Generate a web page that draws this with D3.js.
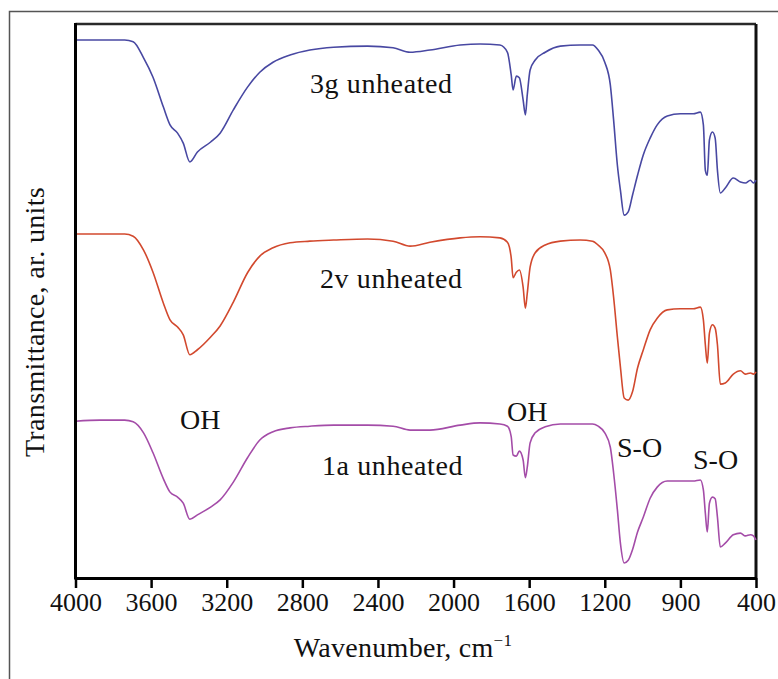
<!DOCTYPE html>
<html>
<head>
<meta charset="utf-8">
<script src="https://cdn.jsdelivr.net/npm/d3@7/dist/d3.min.js"></script>
<style>
  body { margin: 0; background: #fff; }
  svg { display: block; }
  text { font-family: "Liberation Serif", "Times New Roman", serif; fill: #111; }
</style>
</head>
<body>
<svg id="chart" width="778" height="679"></svg>
<script>
// Wavenumber sample points (cm^-1), shared by the three spectra
const wavenumbers = [4000, 3870, 3740, 3695, 3640, 3590, 3535, 3500, 3460, 3430, 3395, 3355, 3285, 3235, 3165, 3090, 3025, 2955, 2865, 2760, 2635, 2455, 2320, 2230, 2125, 1965, 1860, 1755, 1715, 1695, 1685, 1668, 1652, 1632, 1620, 1610, 1595, 1568, 1515, 1435, 1330, 1265, 1235, 1200, 1178, 1165, 1150, 1138, 1123, 1107, 1090, 1070, 1047, 1020, 992, 952, 900, 815, 768, 748, 735, 722, 708, 688, 670, 655, 636, 603, 550, 503, 470, 437, 417, 400];

// Transmittance (arbitrary units, stacked) for each sample
const series3g = [97.1, 97.1, 97.1, 96.8, 93.9, 90.4, 85.0, 81.8, 80.3, 78.5, 75.1, 76.9, 78.7, 80.3, 84.5, 88.6, 91.3, 93.1, 94.4, 95.3, 95.8, 96.0, 95.7, 94.9, 95.3, 96.2, 96.4, 96.2, 94.9, 90.8, 88.1, 90.6, 90.3, 86.3, 83.6, 87.2, 91.7, 93.5, 94.9, 96.0, 96.2, 96.2, 95.3, 93.1, 89.0, 82.7, 74.5, 70.0, 65.5, 66.1, 69.1, 72.7, 76.4, 79.4, 81.8, 83.4, 83.8, 83.8, 84.1, 81.8, 73.6, 72.7, 79.1, 80.5, 79.4, 73.6, 69.5, 70.4, 72.2, 71.5, 71.3, 71.8, 71.3, 71.8];
const series2v = [62.1, 62.1, 62.1, 61.7, 59.2, 55.2, 49.6, 46.6, 45.3, 43.9, 40.3, 41.2, 43.5, 45.5, 49.8, 55.1, 58.1, 59.6, 60.5, 60.8, 61.0, 61.2, 60.8, 59.9, 60.6, 61.4, 61.6, 61.4, 60.6, 57.8, 54.2, 55.2, 55.6, 52.5, 48.7, 51.4, 56.1, 58.7, 60.1, 60.8, 61.0, 60.8, 60.1, 58.7, 55.6, 50.7, 43.5, 38.1, 32.5, 32.1, 33.6, 37.9, 41.2, 44.8, 46.9, 48.4, 48.6, 48.6, 48.9, 46.6, 42.1, 38.8, 44.2, 45.7, 45.1, 42.1, 35.0, 35.2, 36.8, 37.4, 36.8, 37.0, 36.8, 37.2];
const series1a = [28.3, 28.5, 28.5, 28.2, 26.2, 22.6, 17.9, 15.5, 14.6, 13.5, 10.6, 11.4, 12.8, 14.1, 17.3, 21.7, 24.9, 26.4, 27.1, 27.4, 27.6, 27.6, 27.4, 26.7, 26.7, 27.6, 28.0, 27.8, 27.4, 25.5, 22.2, 22.0, 22.9, 21.3, 18.1, 20.0, 24.4, 26.2, 27.3, 27.8, 27.8, 27.8, 27.4, 26.2, 23.6, 19.0, 12.3, 6.3, 2.7, 3.2, 5.1, 8.3, 11.0, 14.4, 16.4, 17.5, 17.5, 17.5, 17.7, 15.9, 11.7, 8.3, 13.5, 14.6, 14.3, 11.0, 5.6, 6.3, 7.8, 8.1, 7.6, 7.8, 7.6, 6.9];

const seriesNames = ["3g unheated", "2v unheated", "1a unheated"];
const seriesColors = ["#4848a2", "#d2492e", "#a44ca8"];

// Axis tick marks (the axis is evenly spaced between these labels)
const tickValues = [4000, 3600, 3200, 2800, 2400, 2000, 1600, 1200, 900, 400];

// Band assignments
const bandLabels = ["OH", "OH", "S-O", "S-O"];

const svg = d3.select("#chart");
const plot = { left: 75.5, right: 756, top: 24, bottom: 578 };

// Outer frame
svg.append("rect")
  .attr("x", 9.5).attr("y", 11.5)
  .attr("width", 820).attr("height", 720)
  .attr("fill", "none").attr("stroke", "#555").attr("stroke-width", 1.5);

const step = (plot.right - plot.left) / (tickValues.length - 1);
const x = d3.scaleLinear()
  .domain(tickValues)
  .range(tickValues.map((d, i) => plot.left + i * step));
const y = d3.scaleLinear().domain([0, 100]).range([plot.bottom, plot.top]);

// Top and right borders of the plot box
svg.append("line")
  .attr("x1", plot.left).attr("x2", plot.right)
  .attr("y1", plot.top).attr("y2", plot.top)
  .attr("stroke", "#2a2a2a").attr("stroke-width", 2.5);
svg.append("line")
  .attr("x1", plot.right).attr("x2", plot.right)
  .attr("y1", plot.top).attr("y2", plot.bottom)
  .attr("stroke", "#111").attr("stroke-width", 3);

// Spectra
const line = d3.line()
  .x((d, i) => x(wavenumbers[i]))
  .y(d => y(d))
  .curve(d3.curveMonotoneX);

[series3g, series2v, series1a].forEach((s, k) => {
  svg.append("path")
    .datum(s)
    .attr("d", line)
    .attr("fill", "none")
    .attr("stroke", seriesColors[k])
    .attr("stroke-width", 1.6)
    .attr("stroke-linejoin", "round");
});

// Left axis line
svg.append("line")
  .attr("x1", plot.left).attr("x2", plot.left)
  .attr("y1", plot.top - 1).attr("y2", plot.bottom + 1.5)
  .attr("stroke", "#000").attr("stroke-width", 3);

// Bottom axis
const xAxis = d3.axisBottom(x)
  .tickValues(tickValues)
  .tickFormat(d3.format("d"))
  .tickSize(10)
  .tickSizeOuter(0)
  .tickPadding(5);

const gx = svg.append("g")
  .attr("transform", `translate(0,${plot.bottom})`)
  .call(xAxis);
gx.select(".domain").attr("stroke", "#000").attr("stroke-width", 3);
gx.selectAll(".tick line").attr("stroke", "#000").attr("stroke-width", 2.5);
gx.selectAll(".tick text")
  .attr("font-family", "Liberation Serif, serif")
  .attr("font-size", 26)
  .attr("fill", "#111");

// Axis titles
const xt = svg.append("text")
  .attr("x", 403).attr("y", 657)
  .attr("text-anchor", "middle")
  .attr("font-size", 28)
  .attr("letter-spacing", 0.3);
xt.append("tspan").text("Wavenumber, cm");
xt.append("tspan").attr("dy", -11).attr("font-size", 17).text("\u22121");

svg.append("text")
  .attr("transform", "translate(44,322) rotate(-90)")
  .attr("text-anchor", "middle")
  .attr("font-size", 28)
  .attr("letter-spacing", 0.35)
  .text("Transmittance, ar. units");

// Series labels
const seriesLabelPos = [[310, 93], [320, 288], [322, 475]];
seriesNames.forEach((n, k) => {
  svg.append("text")
    .attr("x", seriesLabelPos[k][0]).attr("y", seriesLabelPos[k][1])
    .attr("font-size", 28)
    .attr("letter-spacing", 0.6)
    .text(n);
});

// Band labels
const bandPos = [[180, 429], [507, 421], [617, 457], [693, 469]];
bandLabels.forEach((b, k) => {
  svg.append("text")
    .attr("x", bandPos[k][0]).attr("y", bandPos[k][1])
    .attr("font-size", 28)
    .text(b);
});
</script>
</body>
</html>
